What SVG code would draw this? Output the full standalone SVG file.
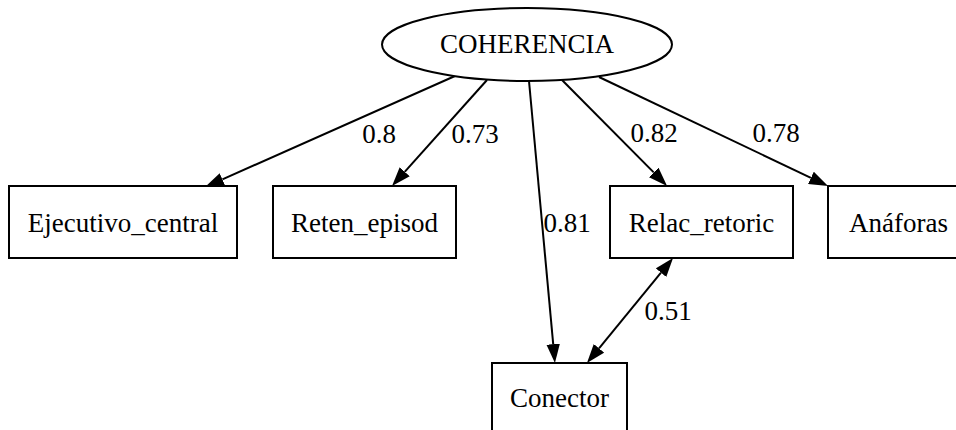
<svg xmlns="http://www.w3.org/2000/svg" width="956" height="430" viewBox="0 0 956 430">
<style>
.n{fill:#fff;stroke:#000;stroke-width:2}
.e{stroke:#000;stroke-width:2;fill:none}
.t{font-family:'Liberation Serif',serif;font-size:27px;fill:#000;text-anchor:middle}
</style>
<defs>
<marker id="ah" markerUnits="userSpaceOnUse" markerWidth="20" markerHeight="14" viewBox="0 -7 20 14" refX="0" refY="0" orient="auto-start-reverse">
<path d="M0,-6.75 L19,0 L0,6.75 z" fill="#000"/>
</marker>
</defs>
<rect width="956" height="430" fill="#fff"/>
<g id="edges">
<line class="e" x1="455" y1="76" x2="222.4" y2="179.4" marker-end="url(#ah)"/>
<line class="e" x1="487" y1="80" x2="404.7" y2="171.8" marker-end="url(#ah)"/>
<line class="e" x1="529" y1="81" x2="553.2" y2="344.1" marker-end="url(#ah)"/>
<line class="e" x1="562" y1="80" x2="653.7" y2="172.4" marker-end="url(#ah)"/>
<line class="e" x1="599" y1="77" x2="810.9" y2="177.8" marker-end="url(#ah)"/>
<line class="e" x1="661" y1="272.7" x2="599" y2="348.3" marker-start="url(#ah)" marker-end="url(#ah)"/>
<text class="t" x="379" y="143">0.8</text>
<text class="t" x="475" y="143">0.73</text>
<text class="t" x="567" y="232">0.81</text>
<text class="t" x="654" y="142">0.82</text>
<text class="t" x="776" y="142">0.78</text>
<text class="t" x="668" y="320">0.51</text>
</g>
<g id="COHERENCIA">
<ellipse class="n" cx="527" cy="44.5" rx="145" ry="36.5"/>
<text class="t" x="527" y="53">COHERENCIA</text>
</g>
<g id="Ejecutivo_central">
<rect class="n" x="9" y="186" width="228" height="72"/>
<text class="t" x="123" y="232">Ejecutivo_central</text>
</g>
<g id="Reten_episod">
<rect class="n" x="273" y="186" width="183" height="72"/>
<text class="t" x="364.5" y="232">Reten_episod</text>
</g>
<g id="Relac_retoric">
<rect class="n" x="610" y="186" width="183" height="72"/>
<text class="t" x="701.5" y="232">Relac_retoric</text>
</g>
<g id="Anaforas">
<rect class="n" x="828" y="186" width="141" height="72"/>
<text class="t" x="898.5" y="232">Anáforas</text>
</g>
<g id="Conector">
<rect class="n" x="492" y="363" width="135" height="72"/>
<text class="t" x="559.5" y="407">Conector</text>
</g>
</svg>
